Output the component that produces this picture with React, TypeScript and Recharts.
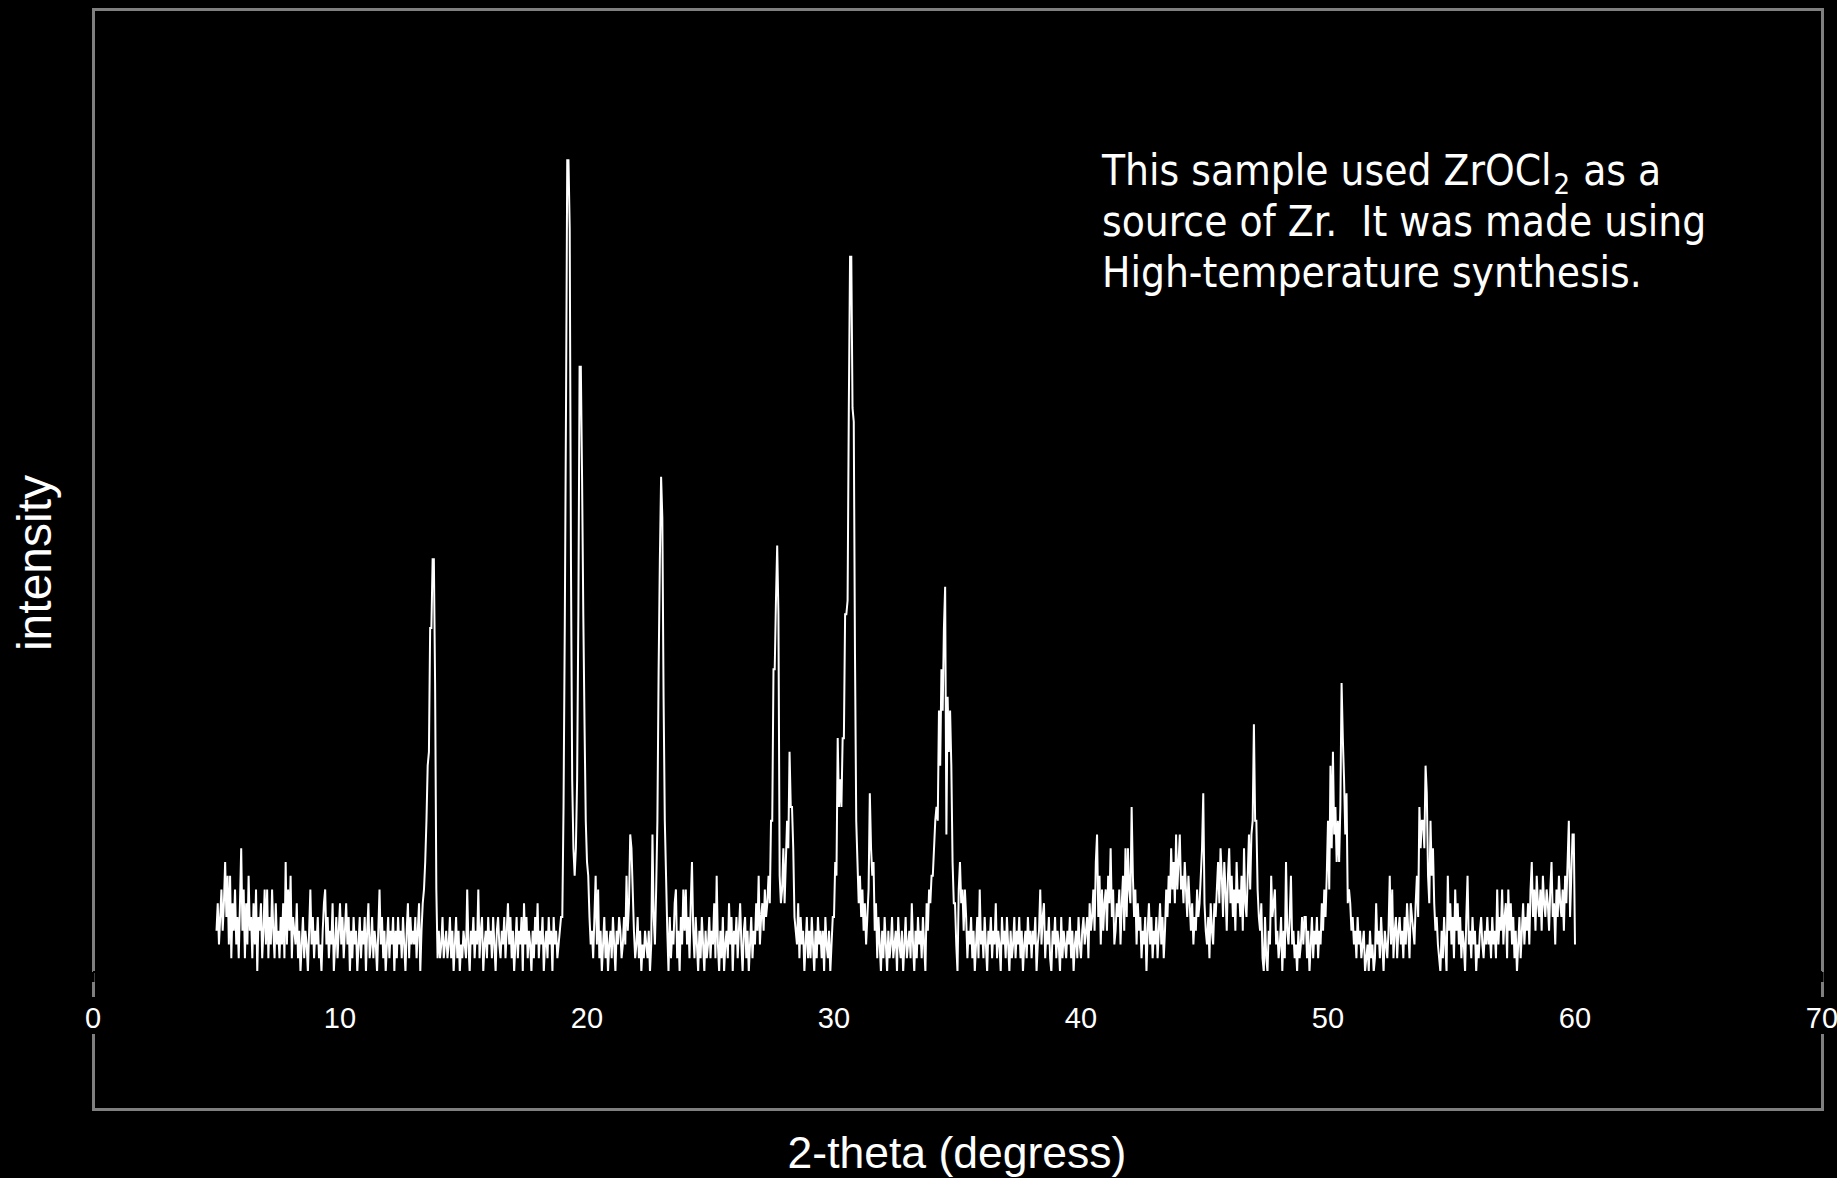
import { LineChart, Line, XAxis, YAxis } from "recharts";

// XRD scan, 5.00° to 60.00° in 0.05° steps, intensity in counts
const START = 5;
const STEP = 0.05;

const seg05 = [
  3, 5, 2, 4, 6, 3, 5, 8, 4, 7,
  2, 7, 1, 5, 3, 6, 2, 4, 1, 5,
  9, 3, 6, 1, 5, 2, 7, 3, 4, 1,
  5, 2, 6, 0, 4, 3, 5, 1, 3, 6,
  2, 6, 1, 4, 2, 6, 3, 1, 5, 2,
  3, 1, 4, 2, 5, 1, 8, 2, 6, 3,
  7, 1, 4, 3, 2, 5, 1, 3, 0, 2,
  4, 1, 3, 2, 0, 3, 6, 2, 4, 1,
  3, 2, 4, 1, 2, 0, 3, 5, 6, 2,
  4, 1, 3, 2, 5, 0, 2, 4, 1, 3,
];
const seg10 = [
  5, 2, 4, 1, 3, 5, 2, 4, 0, 3,
  1, 4, 2, 3, 0, 2, 4, 1, 3, 2,
  4, 0, 3, 5, 1, 2, 4, 1, 3, 2,
  0, 3, 6, 2, 4, 1, 3, 0, 2, 4,
  1, 3, 2, 4, 0, 3, 1, 4, 2, 3,
  1, 4, 2, 0, 3, 5, 1, 4, 2, 3,
  2, 4, 1, 3, 5, 0, 3, 5, 6, 8,
  11, 15, 16, 25, 25, 30, 30, 21, 6, 1,
  3, 1, 2, 4, 1, 2, 3, 1, 2, 4,
  1, 3, 0, 2, 4, 1, 3, 0, 2, 1,
];
const seg15 = [
  3, 2, 1, 6, 2, 0, 3, 2, 4, 1,
  3, 2, 6, 1, 3, 4, 0, 2, 3, 1,
  4, 2, 3, 1, 4, 2, 0, 3, 4, 2,
  1, 3, 2, 4, 1, 3, 5, 2, 4, 1,
  3, 0, 2, 4, 1, 3, 2, 4, 0, 5,
  2, 4, 1, 3, 2, 0, 3, 1, 4, 2,
  5, 1, 3, 2, 4, 0, 2, 3, 1, 4,
  2, 3, 0, 4, 2, 3, 1, 2, 3, 4,
  4, 12, 25, 41, 59, 59, 54, 30, 14, 9,
  7, 9, 14, 26, 44, 44, 36, 26, 18, 11,
];
const seg20 = [
  8, 7, 4, 2, 3, 1, 4, 7, 2, 6,
  1, 3, 0, 2, 4, 1, 3, 0, 2, 3,
  1, 4, 2, 0, 3, 2, 4, 3, 1, 2,
  4, 2, 7, 3, 5, 10, 9, 6, 3, 1,
  2, 4, 1, 3, 0, 2, 1, 3, 2, 1,
  3, 0, 2, 10, 4, 2, 6, 11, 22, 30,
  36, 33, 20, 11, 7, 3, 0, 4, 1, 3,
  2, 5, 6, 1, 3, 0, 4, 2, 6, 3,
  6, 2, 4, 1, 5, 8, 3, 1, 4, 2,
  0, 3, 1, 4, 2, 0, 3, 1, 2, 4,
];
const seg25 = [
  1, 3, 2, 5, 1, 7, 2, 0, 3, 1,
  4, 0, 2, 3, 1, 5, 2, 4, 0, 3,
  2, 4, 1, 3, 5, 2, 0, 3, 4, 1,
  3, 0, 2, 4, 1, 3, 2, 5, 3, 7,
  2, 4, 5, 3, 6, 4, 5, 7, 5, 11,
  11, 22, 22, 27, 31, 26, 7, 5, 6, 9,
  5, 8, 11, 9, 16, 12, 12, 9, 4, 3,
  2, 5, 1, 4, 2, 3, 0, 2, 4, 1,
  3, 1, 4, 2, 0, 3, 1, 4, 2, 3,
  1, 3, 0, 4, 2, 1, 3, 0, 2, 4,
];
const seg30 = [
  4, 8, 7, 17, 12, 14, 12, 17, 17, 26,
  26, 27, 41, 52, 52, 41, 40, 23, 11, 8,
  5, 7, 4, 6, 3, 5, 2, 4, 6, 13,
  9, 7, 8, 3, 5, 1, 4, 2, 0, 3,
  1, 4, 2, 0, 3, 1, 2, 4, 1, 2,
  3, 0, 4, 2, 1, 3, 0, 2, 4, 1,
  2, 3, 1, 5, 2, 0, 3, 1, 4, 2,
  3, 1, 4, 2, 0, 5, 3, 6, 5, 7,
  7, 9, 11, 12, 11, 19, 15, 22, 19, 25,
  28, 10, 20, 16, 19, 15, 8, 5, 5, 2,
];
const seg35 = [
  0, 6, 8, 5, 6, 3, 6, 4, 1, 3,
  2, 4, 1, 3, 0, 2, 4, 1, 6, 2,
  3, 1, 4, 2, 0, 3, 2, 4, 1, 3,
  2, 5, 1, 3, 2, 0, 4, 2, 3, 1,
  4, 2, 0, 3, 1, 2, 4, 1, 3, 2,
  4, 1, 3, 0, 2, 3, 1, 4, 2, 3,
  1, 3, 2, 4, 0, 2, 3, 6, 2, 4,
  5, 1, 3, 2, 4, 1, 0, 3, 2, 4,
  1, 3, 2, 0, 4, 1, 3, 2, 1, 3,
  2, 4, 1, 3, 0, 2, 3, 1, 4, 2,
];
const seg40 = [
  1, 3, 4, 2, 3, 4, 1, 5, 3, 4,
  6, 3, 8, 10, 4, 7, 2, 6, 3, 5,
  6, 3, 7, 5, 9, 4, 6, 2, 3, 5,
  4, 6, 2, 5, 7, 3, 9, 4, 9, 6,
  5, 12, 7, 4, 6, 2, 5, 3, 4, 1,
  3, 2, 4, 0, 3, 5, 2, 4, 1, 3,
  2, 4, 1, 3, 5, 2, 4, 1, 3, 6,
  4, 7, 5, 9, 6, 8, 5, 10, 6, 8,
  10, 6, 7, 5, 8, 6, 4, 7, 5, 3,
  5, 2, 4, 3, 6, 4, 5, 7, 9, 13,
];
const seg45 = [
  5, 3, 2, 4, 1, 5, 3, 2, 5, 4,
  6, 8, 5, 9, 7, 4, 8, 6, 3, 7,
  9, 5, 7, 4, 6, 3, 8, 5, 6, 4,
  7, 3, 9, 5, 4, 7, 10, 6, 10, 11,
  18, 11, 11, 6, 4, 3, 5, 1, 0, 4,
  1, 0, 3, 2, 7, 4, 5, 6, 2, 3,
  1, 2, 4, 0, 3, 1, 8, 3, 2, 4,
  7, 2, 3, 1, 2, 0, 3, 1, 2, 4,
  2, 4, 4, 1, 3, 0, 2, 4, 1, 3,
  2, 4, 1, 3, 2, 5, 3, 6, 4, 7,
];
const seg50 = [
  11, 6, 15, 9, 16, 10, 12, 8, 11, 8,
  12, 21, 17, 14, 10, 13, 5, 6, 5, 3,
  4, 2, 3, 1, 4, 2, 3, 1, 2, 3,
  0, 1, 2, 0, 3, 1, 2, 0, 1, 5,
  2, 3, 1, 4, 2, 0, 3, 2, 1, 3,
  7, 2, 6, 1, 3, 4, 1, 3, 4, 2,
  3, 1, 4, 2, 5, 3, 1, 5, 4, 3,
  2, 5, 7, 4, 12, 9, 11, 11, 9, 15,
  13, 7, 5, 11, 7, 9, 5, 3, 4, 2,
  1, 0, 3, 1, 4, 2, 0, 7, 3, 5,
];
const seg55 = [
  2, 4, 1, 6, 3, 5, 2, 4, 1, 3,
  2, 0, 4, 7, 2, 3, 1, 4, 2, 3,
  0, 2, 1, 3, 4, 2, 1, 3, 2, 4,
  2, 3, 1, 4, 2, 3, 1, 6, 2, 4,
  3, 6, 2, 4, 5, 1, 6, 3, 5, 2,
  4, 1, 3, 0, 2, 4, 1, 3, 5, 2,
  4, 3, 5, 2, 6, 8, 4, 6, 3, 7,
  5, 4, 6, 3, 7, 5, 4, 6, 5, 3,
  6, 8, 4, 5, 2, 6, 4, 7, 5, 4,
  6, 3, 7, 5, 8, 11, 4, 7, 10, 10,
];
const seg60 = [2];

const xTicks = [0, 10, 20, 30, 40, 50, 60, 70];
const xDomain = [0, 70];
const yDomain = [0, 70];

const counts = [
  ...seg05, ...seg10, ...seg15, ...seg20, ...seg25, ...seg30,
  ...seg35, ...seg40, ...seg45, ...seg50, ...seg55, ...seg60,
];
const data = counts.map((c, i) => ({
  theta: Number((START + i * STEP).toFixed(2)),
  intensity: c,
}));

const AXIS_FONT = "'Liberation Sans', Arial, sans-serif";
const NOTE_FONT = "Tahoma, 'DejaVu Sans Condensed', 'DejaVu Sans', sans-serif";

// tick label with a black backing, like the original where labels cut the frame
function ThetaTick({ x, y, payload }: any) {
  return (
    <g>
      <rect x={x - 20} y={y + 13} width={40} height={37} fill="#000" />
      <text
        x={x}
        y={y + 44}
        textAnchor="middle"
        fill="#fff"
        fontSize={29}
        fontFamily={AXIS_FONT}
      >
        {payload.value}
      </text>
    </g>
  );
}

export default function App() {
  return (
    <div
      style={{
        position: "fixed",
        left: 0,
        top: 0,
        width: 1837,
        height: 1178,
        background: "#000",
        overflow: "hidden",
      }}
    >
      <div
        style={{
          position: "absolute",
          left: 92,
          top: 8,
          width: 1732,
          height: 1103,
          border: "3px solid #7f7f7f",
          boxSizing: "border-box",
        }}
      />
      <LineChart
        width={1837}
        height={1178}
        data={data}
        margin={{ top: 9, right: 15, bottom: 0, left: 93 }}
        style={{ position: "absolute", left: 0, top: 0 }}
      >
        <XAxis
          dataKey="theta"
          type="number"
          domain={xDomain}
          ticks={xTicks}
          height={206}
          axisLine={{ stroke: "#000", strokeWidth: 2 }}
          tickLine={{ stroke: "#000", strokeWidth: 3 }}
          tickSize={10}
          tickMargin={2}
          tick={<ThetaTick />}
          interval={0}
        />
        <YAxis type="number" domain={yDomain} hide width={0} />
        <Line
          type="linear"
          dataKey="intensity"
          stroke="#fff"
          strokeWidth={2}
          dot={false}
          isAnimationActive={false}
        />
      </LineChart>
      <svg
        width={1837}
        height={1178}
        style={{ position: "absolute", left: 0, top: 0, pointerEvents: "none" }}
      >
        <text
          x={957}
          y={1168}
          textAnchor="middle"
          fill="#fff"
          fontSize={44.5}
          fontFamily={AXIS_FONT}
        >
          2-theta (degress)
        </text>
        <text
          transform="translate(51 563) rotate(-90)"
          textAnchor="middle"
          fill="#fff"
          fontSize={48}
          fontFamily={AXIS_FONT}
        >
          intensity
        </text>
        <text fill="#fff" fontSize={42} fontFamily={NOTE_FONT}>
          <tspan x={1102} y={185}>
            This sample used ZrOCl
          </tspan>
          <tspan dx={2} dy={9} fontSize={29}>
            2
          </tspan>
          <tspan dx={1} dy={-9}> as a</tspan>
          <tspan x={1102} y={236} style={{ whiteSpace: "pre" }}>
            {"source of Zr.  It was made using"}
          </tspan>
          <tspan x={1102} y={287}>
            High-temperature synthesis.
          </tspan>
        </text>
      </svg>
    </div>
  );
}
